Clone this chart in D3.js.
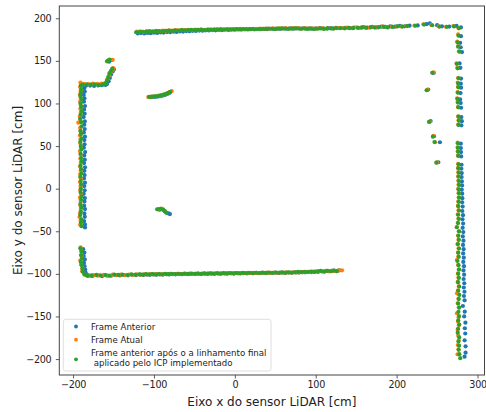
<!DOCTYPE html>
<html>
<head>
<meta charset="utf-8">
<script src="https://cdn.jsdelivr.net/npm/d3@7"></script>
<style>
body{margin:0;background:#fff;}
text{font-family:"DejaVu Sans",sans-serif;}
</style>
</head>
<body>
<div id="chart"></div>
<script>
// Frame Anterior (blue)
const frameAnterior=[
[-187,122],[-186.2,118],[-185.5,114],[-186.8,110],[-185.9,106],[-186.5,102],[-185.2,97],[-186.3,93],[-185.7,88],[-186.9,84],[-185.4,79],[-186.1,75],[-185.6,70],[-186.7,66],[-185.3,61],[-186,57],[-185.8,52],[-186.6,48],[-185.1,43],[-186.2,39],[-185.5,34],[-186.4,30],[-185.2,25],[-186,21],[-185.7,16],[-186.5,12],[-185.3,7],[-186.1,3],[-185.6,-2],[-186.8,-6],[-185.4,-11],[-185.9,-15],[-186.3,-20],[-185.2,-24],[-186,-29],[-185.5,-33],[-186.4,-38],[-185.3,-42],[-185.2,-45.5],
[-184,120.8],[-179,121],[-174,120.6],[-169,121.2],[-164.5,121.5],[-160,121.8],[-158,122.8],[-156,126],[-154.5,130],[-153,134],[-151,137.5],[-149.5,140],[-155.5,149],[-152.5,151],
[-104,107.4],[-101,107.6],[-98,107.8],[-95,108.1],[-92,108.7],[-89,109.3],[-86,110.2],[-83,111.3],[-80.5,112.5],
[-120,182.2],[-116,182.6],[-112,182.1],[-108,182.8],[-104,182.5],[-100,183],[-96,182.8],[-92,183.4],[-88,183.2],[-84,183.8],[-80,183.6],[-76,184.2],[-72,184],[-68,184.6],[-64,184.4],[-60,185],[-56,184.8],[-52,185.3],[-48,185.1],[-44,185.6],[-40,185.4],[-36,185.9],[-32,185.7],[-28,186.1],[-24,185.9],[-20,186.3],[-16,186.1],[-12,186.5],[-8,186.3],[-4,186.7],[0,186.5],[4,186.9],[8,186.7],[12,187],[16,186.8],[20,187.2],[24,187],[28,187.3],[32,187.1],[36,187.5],[40,187.3],[44,187.7],[48,187.5],[52,187.8],[56,187.6],[60,188],[64,187.7],[68,188.1],[72,187.8],[76,188.2],[80,187.9],[84,188.3],[88,187.9],[92,188.2],[96,187.8],[100,188.1],[105,188.4],[110,188],[115,188.5],[120,188.1],[125,188.7],[130,188.3],[136,188.9],[142,188.5],[147,189.1],[153,188.8],[159,189.5],[164,189.1],[170,189.8],[175,189.4],[181,190.1],[186,189.8],[192,190.4],[198,190.1],[204,191],[210,190.6],[216,191.3],[226,191.6],[237,193.2],[241,194],[250,191.9],[256,190.6],[265,190.3],[274,191],[279.5,189.2],
[279.5,179],[278.5,171.2],[279.2,166],[280.8,160.3],[277.8,147],[278.8,141.8],[279.6,129.2],[279.3,123.2],[279.6,118.5],[279,112.2],[278.5,104.8],[279.2,100.5],[279.7,95],[280,84],[280.6,79.2],[280,74.3],[279.3,52.8],[279.4,47.6],[279.6,42.9],[279.8,37.9],[280.2,28.1],[280,23.4],[280.5,18.3],[280.3,13.6],[280.6,8.5],[280.9,3.8],[280.5,-1.2],[281,-5.9],[281.2,-11.1],
[281,-16],[281.6,-21],[281.2,-26.2],[282,-31.1],[281.4,-36],[282.2,-41],[281.6,-46],[282.4,-51],[281.8,-56],[282.6,-61],[282,-66],[282.8,-71],[282.2,-76],[283,-81],[282.4,-86],[283.2,-91],[282.6,-96],[283.4,-101],[282.8,-106],[283.6,-111],[283,-116],[283.8,-121],[283.2,-126],[284,-131],[281.9,-137.7],[284.2,-144.4],[283.5,-150],[285,-157.3],[284.3,-163.8],[284.8,-170],[284,-178],[285.2,-185],[285.2,-192.5],[284,-197.2],
[246,136],[239,116.3],[242,79.3],[246.2,61.5],[253.5,54.5],[251.5,31],
[-187.5,-71],[-186,-75],[-186.8,-79],[-185.5,-83],[-186.5,-87],[-185.8,-91],[-185,-95],[-184.5,-98.5],[-182,-101.5],[-179,-102.2],
[-176,-102.4],[-170,-101.8],[-164,-102.6],[-158,-101.9],[-153,-102.2],[-147,-101.5],[-142,-101.9],[-137,-101.3],[-132,-101.7],[-127,-101.1],[-122,-101.4],[-117,-100.9],[-113,-101.2],[-109,-100.8],[-105,-101.1],[-101,-100.6],[-97,-100.9],[-93,-100.5],[-89,-100.8],[-85,-100.3],[-81,-100.6],[-77,-100.2],[-73,-100.5],[-69,-100.1],[-65,-100.4],[-61,-100],[-57,-100.3],[-53,-99.9],[-49,-100.2],[-45,-99.8],[-41,-100.1],[-37,-99.7],[-33,-100],[-29,-99.6],[-25,-99.9],[-21,-99.5],[-17,-99.8],[-13,-99.4],[-9,-99.7],[-5,-99.3],[-1,-99.6],[3,-99.2],[7,-99.5],[11,-99.1],[15,-99.4],[19,-99],[23,-99.3],[27,-98.9],[31,-99.2],[35,-98.8],[39,-99.1],[43,-98.7],[47,-99],[51,-98.6],[55,-98.9],[59,-98.5],[63,-98.8],[67,-98.4],[71,-98.7],[75,-98.2],[79,-98.5],[83,-97.9],[87,-98.2],[91,-97.6],[95,-97.9],[99,-97.3],[103,-97.6],[107,-96.9],[111,-97.3],[115,-96.5],[119,-96.9],[123,-96.3],[126,-96.8],[129.2,-95.8],
[-93,-24.6],[-89,-24.3],[-86,-27],[-82,-29],[-80.2,-29.8]
];

// Frame Atual (orange)
const frameAtual=[
[-190.9,124.6],[-191.3,119.2],[-190.6,115],[-191.5,110.8],[-190.8,106.5],[-191.2,102.3],[-190.4,98],[-191,93.6],[-190.5,89.2],[-191.6,84.7],[-190.9,80.5],[-193.5,77.5],[-191.2,71.5],[-190.6,66.8],[-191.4,62.4],[-190.8,57.9],[-191.1,53.2],[-190.3,48.6],[-191.5,44.1],[-190.7,39.5],[-191,35],[-190.4,30.6],[-191.3,25.9],[-190.6,21.3],[-191.2,16.8],[-190.5,12.2],[-191.4,7.7],[-190.8,3.1],[-191.1,-1.5],[-190.3,-6],[-191.5,-10.6],[-190.6,-15.1],[-191,-19.7],[-190.4,-24.2],[-191.3,-28.8],[-192,-33.4],[-190.7,-37.9],[-191.2,-42.3],
[-186.5,123],[-181,122.8],[-175.5,123.3],[-170,122.9],[-165,123.4],[-160.5,123.8],[-157.5,128.5],[-155.5,132.8],[-153.5,136.5],[-151,139.5],[-150.3,141.5],[-157,150.3],[-151,151.2],
[-107,107.5],[-104,107.9],[-101,108.2],[-98,108.4],[-95,108.9],[-92,109.5],[-89,110.2],[-86,111],[-83,112.1],[-80.5,113.3],[-78,114.6],
[-121,184.3],[-117,184.7],[-113,184.1],[-109,184.8],[-105,185],[-101,184.5],[-97,185.2],[-93,184.9],[-89,185.5],[-85,185.3],[-81,185.8],[-77,185.5],[-73,186.1],[-69,185.9],[-65,186.3],[-61,186],[-57,186.5],[-53,186.2],[-49,186.6],[-45,186.4],[-41,186.8],[-37,186.5],[-33,186.9],[-29,186.6],[-25,187],[-21,186.8],[-17,187.2],[-13,186.9],[-9,187.3],[-5,187],[-1,187.4],[3,187.1],[7,187.5],[11,187.2],[15,187.6],[19,187.3],[23,187.7],[27,187.4],[31,187.8],[35,187.5],[39,188.1],[43,187.7],[47,188.3],[51,187.8],[55,188.2],[59,187.9],[63,188.4],[67,188],[71,188.5],[75,188.1],[79,188.6],[83,188],[87,188.4],[91,187.9],[95,188.3],[99,187.8],[103,188.2],[108,188.5],[113,188],[118,188.6],[123,188.2],[128,188.8],[134,188.4],[139,189],[145,188.6],[150,189.2],[156,188.7],[161,189.4],[167,189],[172,189.7],[177,189.3],[183,190.4],[188,189.6],[194,190.1],[200,190.6],[206,190.3],[212,191],[222,191.5],[233,193],[243,192.2],[252,190.4],[261,190],[270,190.8],[276.5,188.2],
[276,181],[274.8,172.6],[276.2,167.2],[277,161.3],[274,147],[275,141.8],[276,130.2],[275.5,124.5],[275.8,119.6],[275.3,113.2],[274.8,106],[275.3,101.6],[275.8,96],[276,85],[276.5,80.4],[276,75.3],[275.3,54],[275.3,48.6],[275.5,44],[275.8,39],[276,29.2],[275.8,24.4],[276.2,19.3],[276,14.6],[276.3,9.5],[276.5,4.8],[276.1,-0.2],[276.5,-5],[276.7,-10.2],
[276.2,-15],[275.8,-20],[276.5,-25.2],[275.6,-30.1],[276.3,-35],[275.5,-40],[274.4,-45],[276.8,-50],[275.9,-55],[276.4,-60],[275.3,-65.2],[276.6,-70],[275.8,-75],[276.2,-79.8],[274.4,-83.7],[276,-89.5],[276.8,-94.6],[275.7,-99.5],[276.4,-104.4],[275.5,-109.5],[276.9,-114.5],[275.8,-119.4],[274.6,-122.8],[276.3,-129.2],[275.6,-134.4],[276.8,-139.3],[274.5,-146.2],[276.6,-151],[275.8,-155.8],[276.9,-160.2],[275.4,-165.5],[276.1,-172.5],[276.8,-178],[275.6,-183.5],[276.4,-188.6],[275.3,-194.4],
[245.5,136.5],[238,116],[241,78.5],[245.5,62],[247.5,54.5],[250,30.8],
[-190.5,-68.8],[-190,-73],[-189.5,-79],[-191,-84],[-190,-89],[-188.5,-93],[-188.7,-97],[-185.5,-101],
[-180,-102],[-174,-101.4],[-168,-101.9],[-162,-101.2],[-157,-102.3],[-151,-100.9],[-146,-101.5],[-141,-101],[-136,-101.4],[-131,-100.8],[-126,-101.2],[-121,-100.7],[-116,-100.9],[-112,-100.5],[-108,-100.8],[-104,-100.4],[-100,-100.7],[-96,-100.3],[-92,-100.6],[-88,-100.2],[-84,-100.5],[-80,-100.1],[-76,-100.4],[-72,-100],[-68,-100.3],[-64,-99.9],[-60,-100.2],[-56,-99.8],[-52,-100.1],[-48,-99.7],[-44,-100],[-40,-99.6],[-36,-99.9],[-32,-99.5],[-28,-99.8],[-24,-99.4],[-20,-99.7],[-16,-99.3],[-12,-99.6],[-8,-99.2],[-4,-99.5],[0,-99.1],[4,-99.4],[8,-99],[12,-99.3],[16,-98.9],[20,-99.2],[24,-98.8],[28,-99.1],[32,-98.7],[36,-99],[40,-98.6],[44,-98.9],[48,-98.5],[52,-98.8],[56,-98.4],[60,-98.7],[64,-98.3],[68,-98.6],[72,-98.2],[76,-98.5],[80,-97.9],[84,-98.2],[88,-97.6],[92,-97.9],[96,-97.3],[100,-97.7],[104,-96.9],[108,-97.3],[112,-96.6],[116,-97],[120,-96.2],[124,-96.8],[128,-96],[132.5,-95.8],
[-94.5,-24],[-90.5,-23.5],[-87,-26],[-85.5,-27.5]
];

// Frame anterior apos alinhamento (green)
const frameAlinhado=[
[-190.5,121],[-189.8,117],[-190.2,113],[-191,109],[-189.5,105],[-190.8,100],[-190,96],[-189.2,91],[-190.6,87],[-191.2,82],[-190,78],[-189.5,73],[-190.9,68],[-190.3,64],[-189.6,59],[-191,55],[-190.4,50],[-189.8,46],[-190.7,41],[-190.1,36],[-189.4,32],[-190.8,27],[-190.2,23],[-189.7,18],[-191,14],[-190.5,9],[-189.9,5],[-190.3,0],[-190.8,-4],[-189.6,-9],[-190.1,-13],[-190.9,-18],[-189.8,-22],[-190.4,-27],[-191.1,-31],[-189.7,-36],[-190.2,-40],[-189.5,-44],
[-188,122.2],[-183,122.5],[-178,122],[-173,122.4],[-168,121.8],[-163,122.3],[-159.5,123.5],[-158,127],[-156.5,131],[-155,135.5],[-153,138.5],[-151.5,140.8],[-158,149.5],[-155,151.5],
[-106,107.8],[-103,108],[-100,108.3],[-97,108.5],[-94,109],[-91,109.6],[-88,110.4],[-85,111.3],[-82.5,112.4],[-80,113.5],
[-122,183.6],[-118,183.8],[-114,184.2],[-110,184],[-106,184.5],[-102,184.3],[-98,184.8],[-94,185],[-90,184.7],[-86,185.3],[-82,185.5],[-78,185.2],[-74,185.8],[-70,185.6],[-66,186],[-62,185.9],[-58,186.2],[-54,186.4],[-50,186.1],[-46,186.3],[-42,186.6],[-38,186.2],[-34,186.5],[-30,186.8],[-26,186.6],[-22,186.9],[-18,187],[-14,186.8],[-10,187.1],[-6,186.9],[-2,187],[2,187.2],[6,187],[10,187.3],[14,187.1],[18,187.2],[22,187.4],[26,187.1],[30,187.3],[34,187.6],[38,187.4],[42,188],[46,187.7],[50,187.5],[54,187.8],[58,188.1],[62,187.9],[66,187.6],[70,187.9],[74,188.2],[78,188],[82,187.6],[86,187.9],[90,187.5],[94,187.8],[98,187.4],[102,187.7],[106,188],[110,187.5],[114,187.8],[118,188.2],[122,187.9],[126,188.3],[131,188.6],[136,188.2],[141,188.8],[146,188.4],[152,188.9],[157,189.2],[162,188.8],[168,189.5],[173,189.1],[178,189.6],[184,190],[189,189.3],[195,189.8],[201,190.5],[207,190.2],[213,190.8],[223,191.2],[234,192.6],[244,191.8],[253,190.2],[262,189.9],[271,190.4],[277,188.5],
[276.5,179.6],[275.3,171.8],[276,166.7],[277.5,160.8],[274.4,146.5],[275.5,141.3],[276.5,129.6],[276,123.7],[276.3,119],[275.8,112.7],[275.2,105.3],[275.8,101],[276.3,95.5],[276.5,84.5],[277,79.8],[276.5,74.8],[275.8,53.3],[275.8,48.1],[276,43.4],[276.2,38.4],[276.5,28.6],[276.3,23.9],[276.8,18.8],[276.5,14.1],[276.8,9],[277,4.3],[276.6,-0.7],[277,-5.4],[277.2,-10.6],
[276.7,-15.5],[276.2,-20.5],[277,-25.7],[276,-30.6],[276.8,-35.5],[275.9,-40.4],[274.4,-45.3],[277.2,-50.2],[276.3,-55.3],[276.9,-60.1],[275.7,-65],[277.1,-70.2],[276.2,-75.1],[276.7,-80],[275.2,-84.9],[276.5,-89.8],[277.2,-95],[276.1,-99.9],[276.9,-104.8],[275.9,-109.7],[277.3,-114.9],[276.2,-119.8],[277.5,-124.7],[276.8,-129.6],[276,-134.8],[277.3,-139.7],[276.4,-144.6],[277.1,-149.5],[276.2,-154.6],[277.4,-159.5],[276,-164.4],[275.5,-169],[277.3,-174.5],[276.4,-179.4],[277.2,-184.3],[276.7,-189.2],[277.5,-194.3],[278.6,-199],
[244,136],[237,115.5],[240,78.3],[244.8,61],[246.8,54.8],[249,30.5],
[-191,-70],[-189.5,-74],[-190.2,-78],[-189,-82],[-190.5,-86],[-189.3,-90],[-188.5,-94],[-188,-97.5],[-186,-100.5],[-183,-101.8],
[-182,-102.3],[-177,-101.6],[-171,-101.2],[-166,-101.8],[-160,-101.4],[-155,-102],[-149,-100.8],[-144,-101.2],[-139,-100.9],[-133,-101.3],[-128,-100.6],[-123,-100.9],[-118,-100.5],[-114,-100.8],[-110,-100.4],[-106,-100.7],[-102,-100.3],[-98,-100.6],[-94,-100.2],[-90,-100.5],[-86,-100.1],[-82,-100.4],[-78,-100],[-74,-100.3],[-70,-99.9],[-66,-100.2],[-62,-99.8],[-58,-100.1],[-54,-99.7],[-50,-100],[-46,-99.6],[-42,-99.9],[-38,-99.5],[-34,-99.8],[-30,-99.4],[-26,-99.7],[-22,-99.3],[-18,-99.6],[-14,-99.2],[-10,-99.5],[-6,-99.1],[-2,-99.4],[2,-99],[6,-99.3],[10,-98.9],[14,-99.2],[18,-98.8],[22,-99.1],[26,-98.7],[30,-99],[34,-98.6],[38,-98.9],[42,-98.5],[46,-98.8],[50,-98.4],[54,-98.7],[58,-98.3],[62,-98.6],[66,-98.2],[70,-98.5],[74,-98.1],[78,-97.7],[82,-98],[86,-97.5],[90,-97.8],[94,-97.2],[98,-97.6],[102,-97],[106,-96.6],[110,-97.2],[114,-96.4],[118,-96.9],[122,-96.3],[126,-96.7],
[-96,-24.3],[-92,-23.6],[-88.5,-25],[-86.5,-26.5],[-84.5,-28.3]
];

const xTicks=[-200,-100,0,100,200,300];
const yTicks=[-200,-150,-100,-50,0,50,100,150,200];
const seriesNames=['Frame Anterior','Frame Atual','Frame anterior após o a linhamento final\n aplicado pelo ICP implementado'];
const seriesColors=['#1f77b4','#ff7f0e','#2ca02c'];
const seriesData=[frameAnterior,frameAtual,frameAlinhado];

const width=486,height=412;
const mLeft=59.3,mRight=484.5,mTop=6,mBottom=375;

const svg=d3.select('#chart').append('svg').attr('width',width).attr('height',height);

const x=d3.scaleLinear().domain([-217,308.6]).range([mLeft,mRight]);
const y=d3.scaleLinear().domain([-218.7,214.4]).range([mBottom,mTop]);

// points
seriesData.forEach((data,i)=>{
    svg.append('g').selectAll('circle').data(data).enter().append('circle')
    .attr('cx',d=>x(d[0])).attr('cy',d=>y(d[1])).attr('r',2.1)
    .style('fill',seriesColors[i]);
});

// axes
const xAxis=svg.append('g').attr('transform','translate(0,'+mBottom+')')
    .call(d3.axisBottom(x).tickValues(xTicks).tickSize(3.5).tickPadding(3).tickSizeOuter(0));
const yAxis=svg.append('g').attr('transform','translate('+mLeft+',0)')
    .call(d3.axisLeft(y).tickValues(yTicks).tickSize(3.5).tickPadding(4.5).tickSizeOuter(0));
[xAxis,yAxis].forEach(g=>{
    g.select('.domain').remove();
    g.selectAll('line').style('stroke','#333').style('stroke-width',0.8);
    g.selectAll('text').style('font-family','"DejaVu Sans"').style('font-size','9.6px')
        .style('letter-spacing','-0.3px').style('fill','#222');
});

// frame
svg.append('rect').attr('x',mLeft).attr('y',mTop).attr('width',mRight-mLeft).attr('height',mBottom-mTop)
    .style('fill','none').style('stroke','#444').style('stroke-width',1);

// axis labels
svg.append('text').text('Eixo x do sensor LiDAR [cm]')
    .attr('x',(mLeft+mRight)/2).attr('y',405.5).attr('text-anchor','middle')
    .style('font-size','12px').style('fill','#222');
svg.append('text').text('Eixo y do sensor LiDAR [cm]')
    .attr('transform','translate(21.5,'+((mTop+mBottom)/2)+') rotate(-90)').attr('text-anchor','middle')
    .style('font-size','12px').style('fill','#222');

// legend
const legend=svg.append('g');
legend.append('rect').attr('x',63.3).attr('y',319.3).attr('width',207.7).attr('height',51.7).attr('rx',2.5)
    .style('fill','#fff').style('fill-opacity',0.8).style('stroke','#d6d6d6').style('stroke-width',0.8);
const legendY=[326.5,339.7,359.3];
seriesNames.forEach((name,i)=>{
    legend.append('circle').attr('cx',76).attr('cy',legendY[i]).attr('r',1.9).style('fill',seriesColors[i]);
    const lines=name.split('\n');
    const t=legend.append('text').style('font-size','8.6px').style('fill','#222');
    lines.forEach((l,j)=>{
        t.append('tspan').attr('x',91).attr('y',(lines.length>1?352.7+j*9.8:legendY[i])+3).text(l).attr('xml:space','preserve');
    });
});
</script>
</body>
</html>
